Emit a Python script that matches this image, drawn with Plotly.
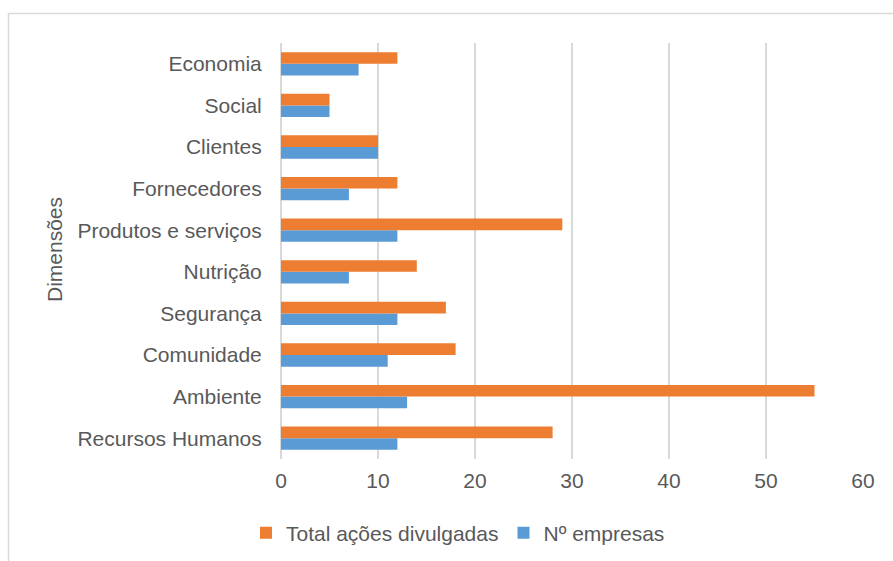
import plotly.graph_objects as go

categories = ["Economia", "Social", "Clientes", "Fornecedores", "Produtos e serviços",
              "Nutrição", "Segurança", "Comunidade", "Ambiente", "Recursos Humanos"]
total_acoes = [12, 5, 10, 12, 29, 14, 17, 18, 55, 28]
n_empresas = [8, 5, 10, 7, 12, 7, 12, 11, 13, 12]
x_ticks = [0, 10, 20, 30, 40, 50, 60]

FONT = "Liberation Sans, Arial, sans-serif"
TXT = "#595959"

fig = go.Figure()
fig.add_trace(go.Bar(y=categories, x=n_empresas, orientation="h", name="Nº empresas",
                     marker=dict(color="#5B9BD5", line=dict(width=0))))
fig.add_trace(go.Bar(y=categories, x=total_acoes, orientation="h", name="Total ações divulgadas",
                     marker=dict(color="#ED7D31", line=dict(width=0))))

W, H = 893, 561
L, R, T, B = 281, 30, 43, 102
pw, ph = W - L - R, H - T - B

def px_x(x):
    return (x - L) / pw

def px_y(y):
    return (H - B - y) / ph

fig.update_layout(
    width=W, height=H,
    margin=dict(l=L, r=R, t=T, b=B, pad=0, autoexpand=False),
    paper_bgcolor="white", plot_bgcolor="white",
    barmode="group", bargap=0.44, bargroupgap=0,
    font=dict(family=FONT, size=21, color=TXT),
    xaxis=dict(range=[0, 60], tickvals=x_ticks, showgrid=True, gridcolor="#d9d9d9", gridwidth=1.5,
               zeroline=True, zerolinecolor="#d9d9d9", zerolinewidth=1.5,
               ticks="outside", ticklen=3, tickcolor="rgba(0,0,0,0)", showline=False,
               tickfont=dict(size=21, color=TXT), fixedrange=True, automargin=False),
    yaxis=dict(categoryorder="array", categoryarray=list(reversed(categories)),
               showgrid=False, showline=False, zeroline=False,
               ticks="outside", ticklen=14, tickcolor="rgba(0,0,0,0)",
               tickfont=dict(size=21, color=TXT), fixedrange=True, automargin=False),
    legend=dict(orientation="h", traceorder="reversed", x=px_x(458), xanchor="center",
                y=px_y(533), yanchor="middle", font=dict(size=21, color=TXT),
                bgcolor="rgba(0,0,0,0)", itemclick=False),
    showlegend=True,
    annotations=[dict(text="Dimensões", xref="paper", yref="paper", x=px_x(54), y=px_y(250),
                      xanchor="center", yanchor="middle", textangle=-90, showarrow=False,
                      font=dict(size=21, color=TXT))],
    shapes=[dict(type="rect", xref="paper", yref="paper",
                 x0=px_x(8.5), x1=px_x(905), y0=px_y(575), y1=px_y(13.5),
                 line=dict(color="#d9d9d9", width=1.5), fillcolor="rgba(0,0,0,0)", layer="below")],
)

fig.write_html("out.html", config={"displayModeBar": False})
